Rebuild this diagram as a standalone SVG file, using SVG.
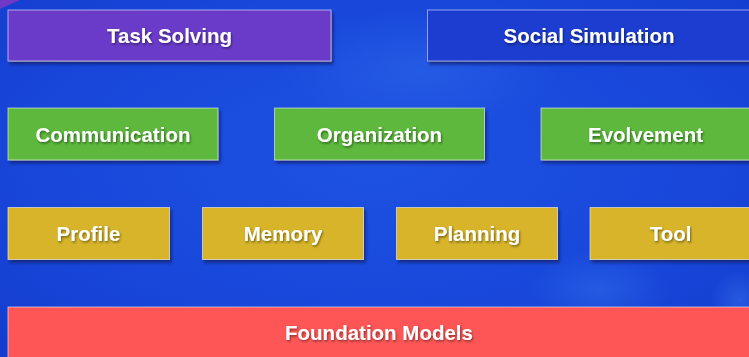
<svg xmlns="http://www.w3.org/2000/svg" width="749" height="357" viewBox="0 0 749 357">
<defs>
<radialGradient id="bg" cx="0.5" cy="0.45" r="0.75">
<stop offset="0" stop-color="#1d52e2"/>
<stop offset="0.6" stop-color="#1847da"/>
<stop offset="1" stop-color="#143ccd"/>
</radialGradient>
<radialGradient id="glow" cx="0.5" cy="0.5" r="0.5">
<stop offset="0" stop-color="#3a7af0" stop-opacity="0.55"/>
<stop offset="1" stop-color="#3a7af0" stop-opacity="0"/>
</radialGradient>
<filter id="sh" x="-10%" y="-20%" width="120%" height="150%">
<feDropShadow dx="2" dy="3" stdDeviation="1.6" flood-color="#0a1a60" flood-opacity="0.7"/>
</filter>
<filter id="tsh" x="-10%" y="-30%" width="120%" height="160%">
<feDropShadow dx="1" dy="1.5" stdDeviation="1" flood-color="#000" flood-opacity="0.45"/>
</filter>
</defs>
<style>
.box{stroke:#ffffff;stroke-opacity:0.55;stroke-width:1;filter:url(#sh)}
.purple{fill:#6b3bc9}
.social{fill:#1c3dcf;stroke:#b4b9f0;stroke-opacity:0.8}
.green{fill:#5db83e}
.yellow{fill:#d7b42a}
.red{fill:#fe5757}
.lbl{font-family:"Liberation Sans",Arial,Helvetica,sans-serif;font-weight:bold;font-size:20.5px;fill:#ffffff;text-anchor:middle;filter:url(#tsh)}
</style>
<rect x="0" y="0" width="749" height="357" fill="url(#bg)"/>
<ellipse cx="420" cy="70" rx="140" ry="60" fill="url(#glow)" opacity="0.6"/>
<ellipse cx="600" cy="290" rx="70" ry="40" fill="url(#glow)" opacity="0.7"/>
<ellipse cx="740" cy="300" rx="30" ry="30" fill="url(#glow)" opacity="0.8"/>
<polygon points="0,0 20,0 0,9" fill="#7a38c4" opacity="0.9"/>
<g id="connectors"></g>
<g id="task-solving"><rect class="box purple" x="8" y="10" width="323" height="51"/><text class="lbl" x="169.5" y="43">Task Solving</text></g>
<g id="social-simulation"><rect class="box social" x="427.5" y="10" width="325" height="51"/><text class="lbl" x="589" y="43">Social Simulation</text></g>
<g id="communication"><rect class="box green" x="8" y="108" width="210" height="52"/><text class="lbl" x="113" y="142">Communication</text></g>
<g id="organization"><rect class="box green" x="274.5" y="108" width="210" height="52"/><text class="lbl" x="379.5" y="142">Organization</text></g>
<g id="evolvement"><rect class="box green" x="541" y="108" width="211" height="52"/><text class="lbl" x="645.5" y="142">Evolvement</text></g>
<g id="profile"><rect class="box yellow" x="8" y="207.5" width="161.5" height="52"/><text class="lbl" x="88.5" y="241">Profile</text></g>
<g id="memory"><rect class="box yellow" x="202.5" y="207.5" width="161" height="52"/><text class="lbl" x="283" y="241">Memory</text></g>
<g id="planning"><rect class="box yellow" x="396.5" y="207.5" width="161" height="52"/><text class="lbl" x="477" y="241">Planning</text></g>
<g id="tool"><rect class="box yellow" x="590" y="207.5" width="162" height="52"/><text class="lbl" x="670.5" y="241">Tool</text></g>
<g id="foundation-models"><rect class="box red" x="8" y="307" width="744" height="55"/><text class="lbl" x="379" y="340">Foundation Models</text></g>
</svg>
